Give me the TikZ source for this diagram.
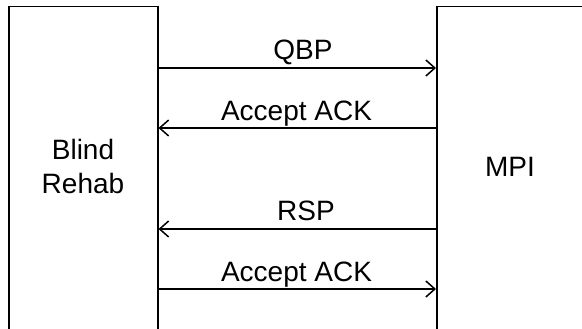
\documentclass[tikz,border=0pt]{standalone}
\usepackage{fontspec}
\setmainfont{Liberation Sans}
\usetikzlibrary{arrows.meta}
\begin{document}
\begin{tikzpicture}[x=1pt,y=-1pt,
  every node/.style={font=\fontsize{28}{34}\selectfont, inner sep=0pt},
  entity/.style={draw, line width=1.5pt, anchor=north west, minimum height=400pt},
  msg/.style={line width=1.5pt, -{Straight Barb[length=9pt,width=16pt,line width=1.5pt]}},
  lbl/.style={anchor=base}]
\useasboundingbox (0,0) rectangle (582,329);
\fill[white] (0,0) rectangle (582,329);
\clip (0,0) rectangle (582,329);
\node[entity, minimum width=149pt] (br) at (8,6) {};
\node[entity, minimum width=200pt] (mpi) at (436,6) {};
\node[align=center] (brl) at (83,166) {Blind\\Rehab};
\node[lbl] (mpil) at (510,176) {MPI};
\draw[msg] (br.east |- 0,68) -- (mpi.west |- 0,68);
\draw[msg] (mpi.west |- 0,128) -- (br.east |- 0,128);
\draw[msg] (mpi.west |- 0,229) -- (br.east |- 0,229);
\draw[msg] (br.east |- 0,289) -- (mpi.west |- 0,289);
\node[lbl] (l1) at (303,59.3) {QBP};
\node[lbl] (l2) at (296.5,121) {Accept ACK};
\node[lbl] (l3) at (306,220.7) {RSP};
\node[lbl] (l4) at (296.5,281.7) {Accept ACK};
\end{tikzpicture}
\end{document}
